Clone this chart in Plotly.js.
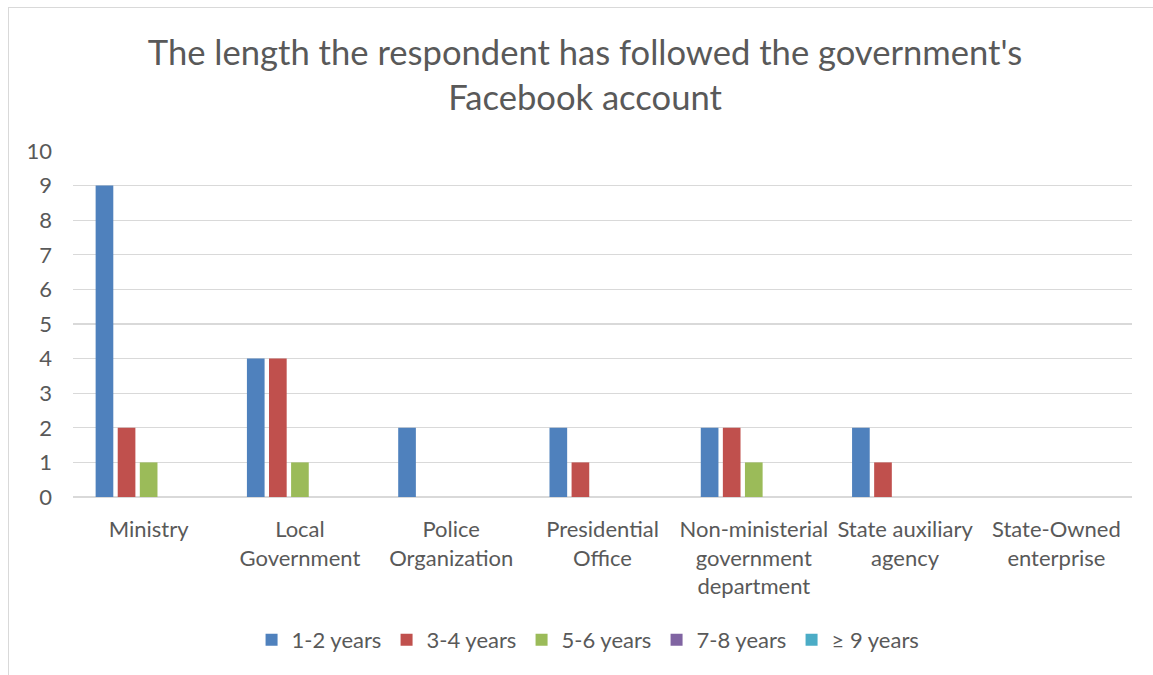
<!DOCTYPE html>
<html>
<head>
<meta charset="utf-8">
<script src="https://cdn.plot.ly/plotly-3.0.1.min.js"></script>
<style>
html,body{margin:0;padding:0;background:#fff;overflow:hidden;}
#chart{width:1153px;height:675px;}
#frame{position:absolute;left:8px;top:7px;width:2000px;height:2000px;border-left:1px solid #d9d9d9;border-top:1px solid #d9d9d9;pointer-events:none;}
</style>
</head>
<body>
<div id="chart"></div>
<div id="frame"></div>
<script>
const categories = ["Ministry", "Local<br>Government", "Police<br>Organization", "Presidential<br>Office",
  "Non-ministerial<br>government<br>department", "State auxiliary<br>agency", "State-Owned<br>enterprise"];
const seriesNames = ["1-2 years", "3-4 years", "5-6 years", "7-8 years", "\u2265 9 years"];
const years12 = [9, 4, 2, 2, 2, 2, 0];
const years34 = [2, 4, 0, 1, 2, 1, 0];
const years56 = [1, 1, 0, 0, 1, 0, 0];
const years78 = [0, 0, 0, 0, 0, 0, 0];
const years9p = [0, 0, 0, 0, 0, 0, 0];
const seriesValues = [years12, years34, years56, years78, years9p];
const colors = ["#4f81bd", "#c0504d", "#9bbb59", "#8064a2", "#4bacc6"];

const FONT = "Lato, 'Open Sans', sans-serif";
const TXT = "#595959";

const traces = seriesNames.map((n, i) => ({
  type: "bar",
  name: n,
  x: categories,
  y: seriesValues[i],
  marker: {color: colors[i]},
  hoverinfo: "x+y+name"
}));

const layout = {
  width: 1153, height: 675,
  margin: {l: 73, r: 21, t: 151, b: 178},
  paper_bgcolor: "#fff", plot_bgcolor: "#fff",
  font: {family: FONT, color: TXT, size: 22},
  title: {
    text: "The length the respondent has followed the government's<br>Facebook account",
    font: {family: FONT, size: 34.6, color: TXT},
    x: 0.5074, xanchor: "center", xref: "container",
    y: 0.904, yanchor: "middle", yref: "container"
  },
  barmode: "group",
  bargap: 0.27,
  bargroupgap: 0.2,
  xaxis: {
    type: "category",
    showgrid: false, zeroline: false, showline: false,
    ticks: "", ticklabelstandoff: 17,
    tickfont: {family: FONT, size: 22, color: TXT}
  },
  yaxis: {
    range: [0, 10], dtick: 1, tick0: 0,
    showgrid: true, gridcolor: "#d9d9d9", gridwidth: 1.3,
    zeroline: true, zerolinecolor: "#d9d9d9", zerolinewidth: 1.3,
    showline: false, ticks: "", ticklabelstandoff: 20,
    tickfont: {family: FONT, size: 22, color: TXT}
  },
  showlegend: true,
  legend: {
    orientation: "h", x: 0.5109, xref: "container", xanchor: "center",
    y: 0.052, yref: "container", yanchor: "middle",
    font: {family: FONT, size: 22, color: TXT},
    traceorder: "normal",
    entrywidth: 90, itemwidth: 30
  }
};

Plotly.newPlot("chart", traces, layout, {displayModeBar: false, staticPlot: true});
</script>
</body>
</html>
